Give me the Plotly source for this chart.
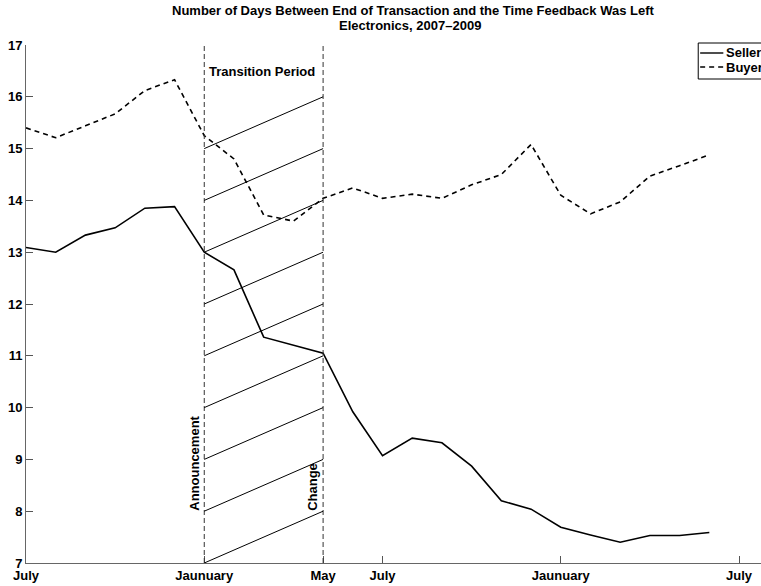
import plotly.graph_objects as go

# Monthly series, July 2007 (index 0) through June 2009 (index 23)
months = list(range(24))
seller = [13.09, 13.00, 13.33, 13.47, 13.85, 13.88, 13.00, 12.66, 11.36, 11.21, 11.05, 9.92,
          9.07, 9.41, 9.32, 8.87, 8.20, 8.04, 7.69, 7.54, 7.40, 7.53, 7.53, 7.59]
buyer = [15.40, 15.21, 15.44, 15.67, 16.12, 16.33, 15.25, 14.80, 13.72, 13.60, 14.04, 14.24,
         14.04, 14.12, 14.04, 14.30, 14.50, 15.08, 14.10, 13.74, 13.97, 14.47, 14.67, 14.88]

tick_vals = [0, 6, 10, 12, 18, 24]
tick_text = ["July", "Jaunuary", "May", "July", "Jaunuary", "July"]
y_ticks = list(range(7, 18))

announce_m = 6   # start of transition period
change_m = 10    # end of transition period
hatch_starts = list(range(7, 16))

W, H = 761, 586
ML, MR, MT, MB = 26, 0, 45, 23
px_per_month = 29.71
x_end = (W - ML) / px_per_month

FONT = "Liberation Sans, Arial, Helvetica, sans-serif"
TXT = 13

fig = go.Figure()
fig.add_trace(go.Scatter(x=months, y=seller, mode="lines", name="Seller",
                         line=dict(color="black", width=1.6)))
fig.add_trace(go.Scatter(x=months, y=buyer, mode="lines", name="Buyer",
                         line=dict(color="black", width=1.6, dash="5px,4px")))

shapes = []
# transition period boundaries
for m in (announce_m, change_m):
    shapes.append(dict(type="line", xref="x", yref="y", x0=m, x1=m, y0=7, y1=17,
                       line=dict(color="#333", width=1, dash="5px,3px")))
# diagonal hatching across the transition period
for k in hatch_starts:
    shapes.append(dict(type="line", xref="x", yref="y", x0=announce_m, x1=change_m,
                       y0=k, y1=k + 1, line=dict(color="black", width=1)))

# legend box
def px_x(p):
    return p / W

def px_y(p):
    return (H - MB - p) / (H - MT - MB)

shapes.append(dict(type="rect", xref="paper", yref="paper",
                   x0=px_x(696), x1=px_x(820), y0=px_y(79), y1=px_y(43),
                   line=dict(color="black", width=1), fillcolor="white"))
shapes.append(dict(type="line", xref="paper", yref="paper",
                   x0=px_x(698), x1=px_x(722), y0=px_y(53), y1=px_y(53),
                   line=dict(color="black", width=1.4)))
shapes.append(dict(type="line", xref="paper", yref="paper",
                   x0=px_x(698), x1=px_x(722), y0=px_y(67), y1=px_y(67),
                   line=dict(color="black", width=1.4, dash="5px,4px")))

annotations = [
    dict(text="<b>Number of Days Between End of Transaction and the Time Feedback Was Left</b>",
         xref="paper", yref="paper", x=px_x(401), y=px_y(11), showarrow=False,
         xanchor="center", yanchor="middle", font=dict(size=13, family=FONT, color="black")),
    dict(text="<b>Electronics, 2007\u20132009</b>",
         xref="paper", yref="paper", x=px_x(398), y=px_y(25), showarrow=False,
         xanchor="center", yanchor="middle", font=dict(size=13, family=FONT, color="black")),
    dict(text="<b>Transition Period</b>", xref="x", yref="y", x=announce_m + 0.08, y=16.48,
         showarrow=False, xanchor="left", yanchor="middle",
         font=dict(size=TXT, family=FONT, color="black")),
    dict(text="<b>Announcement</b>", xref="x", yref="y", x=announce_m - 0.02, y=8.92,
         showarrow=False, xanchor="right", yanchor="middle", textangle=-90,
         font=dict(size=TXT, family=FONT, color="black")),
    dict(text="<b>Change</b>", xref="x", yref="y", x=change_m - 0.02, y=8.47,
         showarrow=False, xanchor="right", yanchor="middle", textangle=-90,
         font=dict(size=TXT, family=FONT, color="black")),
    dict(text="<b>Seller</b>", xref="paper", yref="paper", x=px_x(723), y=px_y(53),
         showarrow=False, xanchor="left", yanchor="middle",
         font=dict(size=TXT, family=FONT, color="black")),
    dict(text="<b>Buyer</b>", xref="paper", yref="paper", x=px_x(723), y=px_y(67),
         showarrow=False, xanchor="left", yanchor="middle",
         font=dict(size=TXT, family=FONT, color="black")),
]

fig.update_layout(
    width=W, height=H,
    margin=dict(l=ML, r=MR, t=MT, b=MB, pad=0),
    paper_bgcolor="white", plot_bgcolor="white",
    showlegend=False,
    shapes=shapes,
    annotations=annotations,
    font=dict(family=FONT, size=TXT, color="black"),
    xaxis=dict(range=[0, x_end], tickvals=tick_vals, ticktext=[f"<b>{t}</b>" for t in tick_text],
               ticks="inside", ticklen=7, tickcolor="#555", showline=True, linecolor="#666",
               linewidth=1, showgrid=False, zeroline=False, fixedrange=True,
               tickfont=dict(size=TXT, family=FONT, color="black")),
    yaxis=dict(range=[7, 17], tickvals=y_ticks, ticktext=[f"<b>{v}</b>" for v in y_ticks],
               ticks="inside", ticklen=7, tickcolor="#555", showline=True, linecolor="#666",
               linewidth=1, showgrid=False, zeroline=False, fixedrange=True,
               tickfont=dict(size=TXT, family=FONT, color="black")),
)

fig.write_html("out.html")
